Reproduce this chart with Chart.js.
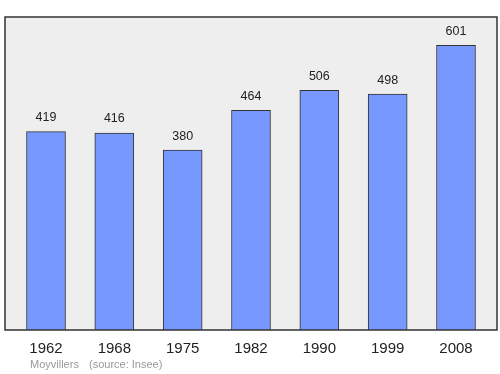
<!DOCTYPE html>
<html lang="fr">
<head>
    <meta charset="UTF-8">
    <title>Moyvillers population</title>
    <script src="https://cdn.jsdelivr.net/npm/chart.js"></script>
    <style>
        body { margin: 0; background: #fff; }
    </style>
</head>
<body>
    <canvas id="popChart" width="500" height="374"></canvas>

    <script>
        // data
        var years = ["1962", "1968", "1975", "1982", "1990", "1999", "2008"];
        var population = [419, 416, 380, 464, 506, 498, 601];
        var townName = "Moyvillers";
        var sourceText = "(source: Insee)";

        var fontFamily = "'Liberation Sans', Arial, sans-serif";

        // grey plot box behind the bars + frame on top
        var boxPlugin = {
            id: 'box',
            beforeDatasetsDraw: function(chart) {
                var a = chart.chartArea, ctx = chart.ctx;
                ctx.save();
                ctx.fillStyle = '#eeeeee';
                ctx.fillRect(a.left, a.top, a.right - a.left, a.bottom - a.top);
                ctx.restore();
            },
            afterDatasetsDraw: function(chart) {
                var a = chart.chartArea, ctx = chart.ctx;
                ctx.save();
                ctx.strokeStyle = '#333333';
                ctx.lineWidth = 1.5;
                ctx.strokeRect(a.left, a.top, a.right - a.left, a.bottom - a.top);

                // value labels above the bars
                var meta = chart.getDatasetMeta(0);
                ctx.fillStyle = '#222222';
                ctx.font = '12.5px ' + fontFamily;
                ctx.textAlign = 'center';
                ctx.textBaseline = 'middle';
                meta.data.forEach(function(bar, i) {
                    ctx.fillText(population[i], bar.x, bar.y - 14);
                });

                // footer
                ctx.fillStyle = '#999999';
                ctx.font = '11px ' + fontFamily;
                ctx.textAlign = 'left';
                ctx.fillText(townName, 30, 365);
                ctx.fillText(sourceText, 89, 365);
                ctx.restore();
            }
        };

        var ctx = document.getElementById('popChart').getContext('2d');
        new Chart(ctx, {
            type: 'bar',
            data: {
                datasets: [{
                    data: population.map(function(v, i) { return { x: i, y: v }; }),
                    backgroundColor: '#7799ff',
                    borderColor: '#333333',
                    borderWidth: 1,
                    barThickness: 39
                }]
            },
            options: {
                responsive: false,
                animation: false,
                layout: { padding: { left: 5, right: 3, top: 17, bottom: 0 } },
                plugins: {
                    legend: { display: false },
                    tooltip: { enabled: false }
                },
                scales: {
                    x: {
                        type: 'linear',
                        min: -0.6,
                        max: 6.6,
                        offset: false,
                        grid: { display: false },
                        border: { display: false },
                        afterBuildTicks: function(scale) {
                            scale.ticks = years.map(function(y, i) { return { value: i }; });
                        },
                        afterFit: function(scale) { scale.height = 44; },
                        ticks: {
                            autoSkip: false,
                            maxRotation: 0,
                            padding: 2,
                            color: '#222222',
                            font: { size: 15, family: fontFamily },
                            callback: function(value) { return years[value]; }
                        }
                    },
                    y: {
                        display: false,
                        min: 0,
                        max: 661
                    }
                }
            },
            plugins: [boxPlugin]
        });
    </script>
</body>
</html>
